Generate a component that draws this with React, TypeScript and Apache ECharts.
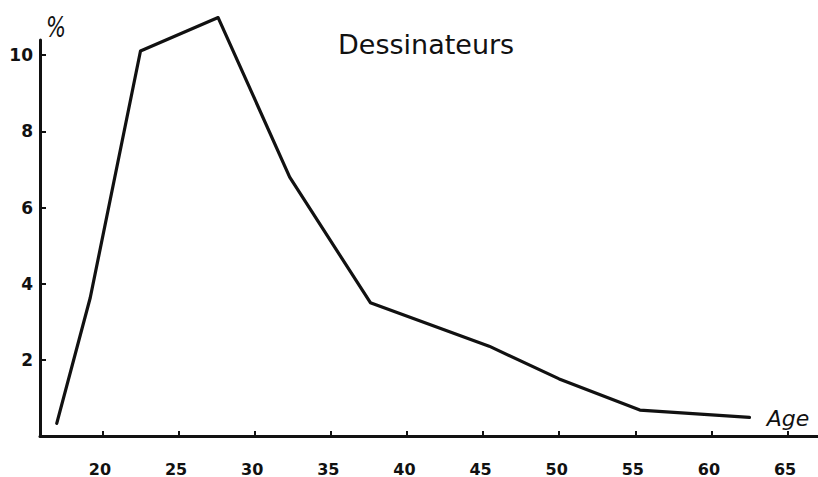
import React, { useEffect, useRef } from "react";
import * as echarts from "echarts";

const ages = [17.0, 19.2, 22.5, 27.6, 32.3, 37.6, 45.4, 50.0, 55.3, 62.5];
const percents = [0.33, 3.63, 10.11, 10.99, 6.8, 3.5, 2.36, 1.5, 0.68, 0.49];
const xTicks = [20, 25, 30, 35, 40, 45, 50, 55, 60, 65];
const yTicks = [2, 4, 6, 8, 10];
const title = "Dessinateurs";
const yUnit = "%";
const xName = "Age";

export default function App() {
  const ref = useRef<HTMLDivElement>(null);
  useEffect(() => {
    if (!ref.current) return;
    const chart = echarts.init(ref.current, null, { renderer: "svg" });
    const font = "'DejaVu Sans', 'Liberation Sans', Arial, sans-serif";
    chart.setOption({
      animation: false,
      backgroundColor: "#ffffff",
      grid: { left: 40, right: 0, top: 40, bottom: 40, containLabel: false },
      xAxis: {
        type: "value",
        min: 15.9,
        max: 67,
        axisLine: { show: true, onZero: false, lineStyle: { color: "#111", width: 3 } },
        axisTick: { show: true, inside: true, length: 5, customValues: xTicks, lineStyle: { color: "#111", width: 2 } },
        axisLabel: {
          customValues: xTicks,
          margin: 25,
          color: "#111",
          fontFamily: font,
          fontWeight: "bold",
          fontSize: 16,
          padding: [0, 5, 0, 0],
        },
        splitLine: { show: false },
      },
      yAxis: {
        type: "value",
        min: 0,
        max: 10.4,
        axisLine: { show: true, onZero: false, lineStyle: { color: "#111", width: 3 } },
        axisTick: { show: true, inside: true, length: 6, customValues: yTicks, lineStyle: { color: "#111", width: 2 } },
        axisLabel: {
          customValues: yTicks,
          margin: 7,
          color: "#111",
          fontFamily: font,
          fontWeight: "bold",
          fontSize: 17,
          padding: [0, 0, 12, 0],
        },
        splitLine: { show: false },
      },
      series: [
        {
          type: "line",
          data: ages.map((a, i) => [a, percents[i]]),
          symbol: "none",
          clip: false,
          lineStyle: { color: "#111", width: 3.2, cap: "round", join: "round" },
        },
      ],
      graphic: [
        {
          type: "text",
          left: 338,
          top: 31,
          style: { text: title, fontFamily: font, fontSize: 27, fill: "#111" },
        },
        {
          type: "text",
          x: 56,
          y: 27,
          scaleX: 0.75,
          style: {
            text: yUnit,
            fontFamily: font,
            fontSize: 28,
            fontStyle: "italic",
            fill: "#111",
            align: "center",
            verticalAlign: "middle",
          },
        },
        {
          type: "text",
          x: 788,
          y: 418,
          style: {
            text: xName,
            fontFamily: font,
            fontSize: 22,
            fontStyle: "italic",
            fill: "#111",
            align: "center",
            verticalAlign: "middle",
          },
        },
      ],
    });
    return () => chart.dispose();
  }, []);
  return (
    <div
      ref={ref}
      style={{ position: "fixed", left: 0, top: 0, width: 818, height: 477, background: "#fff" }}
    />
  );
}
